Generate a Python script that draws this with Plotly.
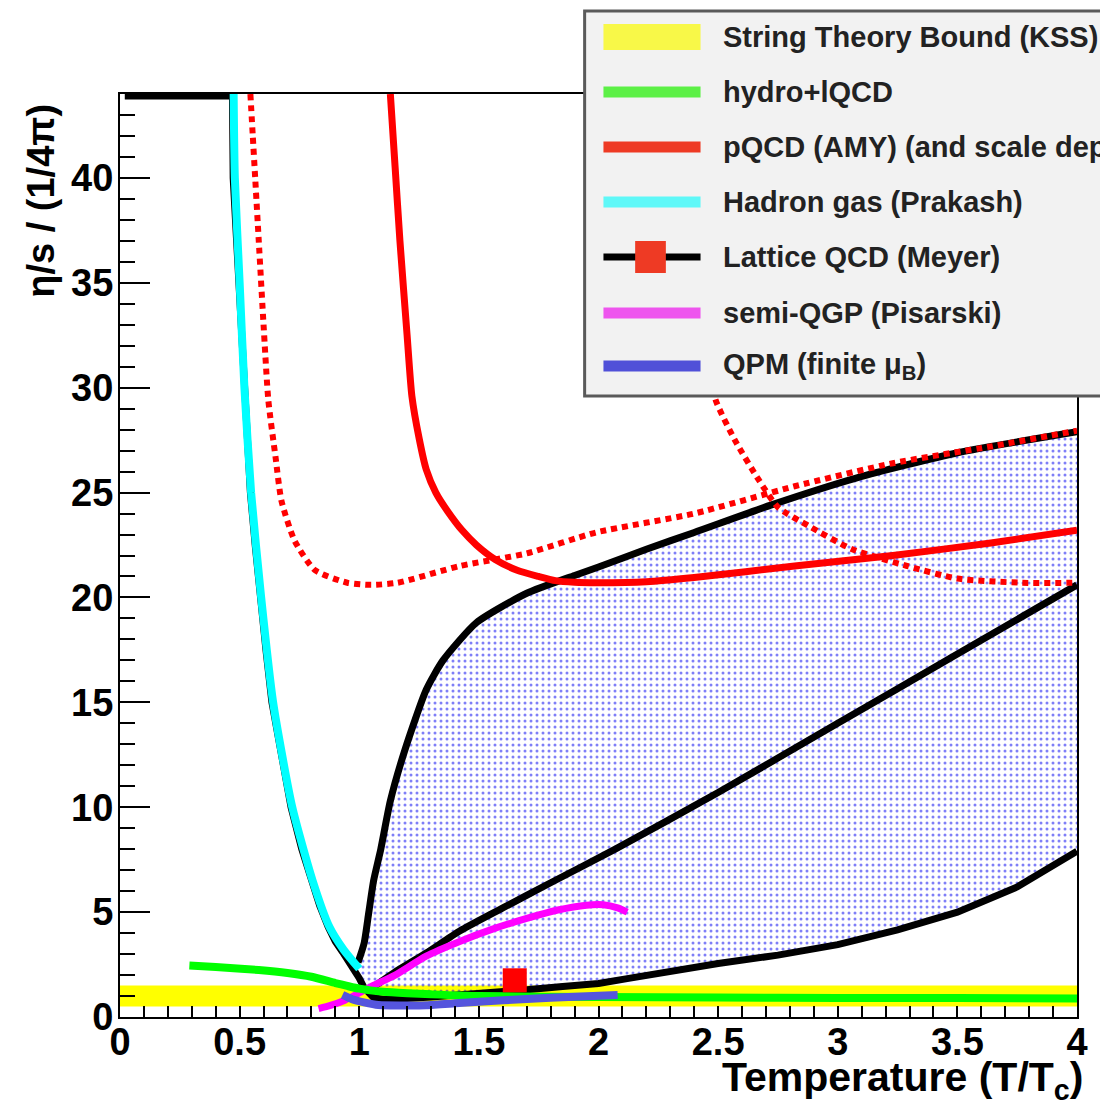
import plotly.graph_objects as go

# ---- data: eta/s in units of 1/(4 pi) versus T/Tc ----
kss_T = [0.0, 4.0]
kss_lo = [0.5, 0.5]
kss_hi = [1.5, 1.5]

hydro_T = [0.29, 0.4, 0.58, 0.7, 0.8, 0.9, 0.95, 1.0, 1.1, 1.2, 1.3, 1.5, 2.0, 2.5, 3.0, 3.5, 4.0]
hydro_eta = [2.45, 2.38, 2.24, 2.1, 1.92, 1.62, 1.48, 1.35, 1.2, 1.13, 1.08, 1.0, 0.95, 0.93, 0.91, 0.9, 0.88]

amy_T = [1.13, 1.15, 1.17, 1.2, 1.22, 1.25, 1.28, 1.32, 1.37, 1.43, 1.49, 1.57, 1.66, 1.75, 1.82, 1.9, 2.0, 2.2, 2.4, 2.82, 3.23, 3.64, 4.0]
amy_eta = [44, 40.5, 37.0, 32.5, 29.6, 27.6, 26.1, 25.0, 24.1, 23.2, 22.5, 21.8, 21.3, 21.0, 20.8, 20.72, 20.7, 20.75, 20.95, 21.5, 22.0, 22.6, 23.2]

amy_lo_T = [0.545, 0.555, 0.565, 0.58, 0.6, 0.62, 0.65, 0.675, 0.73, 0.815, 0.95, 1.05, 1.16, 1.42, 1.7, 1.99, 2.4, 2.82, 3.23, 3.64, 4.0]
amy_lo_eta = [44, 42, 40, 37, 33, 29.4, 26.7, 24.6, 22.7, 21.3, 20.7, 20.6, 20.7, 21.5, 22.1, 23.1, 24.0, 25.3, 26.4, 27.2, 27.95]

amy_hi_T = [2.45, 2.49, 2.57, 2.67, 2.75, 2.88, 3.06, 3.29, 3.5, 3.77, 4.0]
amy_hi_eta = [31.5, 29.4, 27.5, 25.6, 24.3, 23.4, 22.3, 21.5, 20.9, 20.7, 20.7]

hadron_T = [0.475, 0.48, 0.5, 0.52, 0.548, 0.59, 0.64, 0.72, 0.805, 0.875, 0.935, 1.0]
hadron_eta = [44, 40, 35, 30, 25, 20, 15, 10, 6.5, 4.3, 3.2, 2.3]

lat_up_T = [0.995, 1.02, 1.04, 1.06, 1.09, 1.13, 1.19, 1.28, 1.35, 1.49, 1.7, 1.9, 2.0, 2.2, 2.4, 2.72, 3.08, 3.5, 4.0]
lat_up_eta = [2.6, 3.5, 5.0, 6.5, 8.0, 10.3, 12.7, 15.6, 17.0, 18.8, 20.2, 21.05, 21.45, 22.3, 23.1, 24.4, 25.7, 26.9, 27.9]

lat_lo_T = [0.02, 0.47, 0.473, 0.485, 0.495, 0.505, 0.515, 0.53, 0.545, 0.565, 0.585, 0.61, 0.635, 0.675, 0.715,
            0.76, 0.8, 0.835, 0.87, 0.9, 0.93, 0.955, 0.98, 1.0, 1.02, 1.04, 1.06, 1.1, 1.15, 1.3, 1.5, 1.6,
            1.7, 1.85, 2.0, 2.12, 2.25, 2.5, 2.75, 3.0, 3.25, 3.5, 3.75, 4.0]
lat_lo_eta = [43.9, 43.9, 40, 37.5, 35, 32.5, 30, 27.5, 25, 22.5, 20, 17.5, 15, 12.4, 10,
              8.0, 6.5, 5.3, 4.3, 3.6, 3.1, 2.7, 2.3, 1.85, 1.4, 1.1, 0.92, 0.85, 0.85, 0.95, 1.1, 1.2,
              1.3, 1.45, 1.6, 1.83, 2.1, 2.55, 2.95, 3.45, 4.15, 5.0, 6.2, 7.9]

lat_mid_T = [1.03, 1.08, 1.15, 1.28, 1.42, 1.6, 1.8, 2.07, 2.5, 3.0, 3.5, 4.0]
lat_mid_eta = [1.2, 1.6, 2.15, 3.05, 4.1, 5.2, 6.4, 8.0, 10.7, 14.0, 17.3, 20.6]

meyer_T = [1.65]
meyer_eta = [1.75]

semi_T = [0.83, 0.88, 0.94, 1.0, 1.05, 1.15, 1.28, 1.42, 1.56, 1.7, 1.83, 1.95, 2.02, 2.08, 2.12]
semi_eta = [0.4, 0.55, 0.8, 1.15, 1.45, 2.0, 2.9, 3.6, 4.2, 4.7, 5.1, 5.33, 5.35, 5.2, 5.0]

qpm_T = [0.93, 0.97, 1.02, 1.08, 1.2, 1.28, 1.4, 1.5, 1.7, 1.9, 2.08]
qpm_eta = [1.05, 0.85, 0.7, 0.57, 0.55, 0.56, 0.65, 0.73, 0.86, 0.97, 1.05]

legend_labels = ["String Theory Bound (KSS)", "hydro+lQCD", "pQCD (AMY) (and scale dependence)",
                 "Hadron gas (Prakash)", "Lattice QCD (Meyer)", "semi-QGP (Pisarski)",
                 "QPM (finite \u03bc<sub>B</sub>)"]

# ---- page geometry (pixels) ----
W, H = 1100, 1113
L, R, T, B = 120, 1086, 94, 1017


def px(x):
    return (x - L) / (R - L)


def py(y):
    return (B - y) / (B - T)


FONT = "Liberation Sans"
SPL = dict(shape="spline", smoothing=0.6)
fig = go.Figure()

# KSS band
fig.add_trace(go.Scatter(x=kss_T + kss_T[::-1], y=kss_hi + kss_lo[::-1], fill="toself",
                         fillcolor="#ffff00", mode="none", hoverinfo="skip"))

# lattice band (dotted fill between upper and lower bounds for T >= Tc)
lo_part = [(t, e) for t, e in zip(lat_lo_T, lat_lo_eta) if t >= 0.98]
band_T = lat_up_T + [t for t, _ in lo_part][::-1]
band_eta = lat_up_eta + [e for _, e in lo_part][::-1]
fig.add_trace(go.Scatter(x=band_T, y=band_eta, fill="toself", mode="lines",
                         line=dict(width=0, color="rgba(0,0,0,0)"), fillcolor="rgba(0,0,0,0)",
                         fillpattern=dict(shape=".", fgcolor="#0000f0", bgcolor="rgba(0,0,0,0)",
                                          size=6, solidity=0.2),
                         hoverinfo="skip"))

black = dict(color="black", width=7)
fig.add_trace(go.Scatter(x=lat_lo_T, y=lat_lo_eta, mode="lines", line=black))
fig.add_trace(go.Scatter(x=lat_up_T, y=lat_up_eta, mode="lines", line=dict(black, **SPL)))
fig.add_trace(go.Scatter(x=lat_mid_T, y=lat_mid_eta, mode="lines", line=dict(black, **SPL)))

# pQCD
fig.add_trace(go.Scatter(x=amy_T, y=amy_eta, mode="lines",
                         line=dict(color="#ff0000", width=7, **SPL)))
for xs, ys in ((amy_lo_T, amy_lo_eta), (amy_hi_T, amy_hi_eta)):
    fig.add_trace(go.Scatter(x=xs, y=ys, mode="lines",
                             line=dict(color="#ff0000", width=6, dash="6px,5px", **SPL)))

# hadron gas
fig.add_trace(go.Scatter(x=hadron_T, y=hadron_eta, mode="lines",
                         line=dict(color="#00ffff", width=8, **SPL)))
# semi-QGP
fig.add_trace(go.Scatter(x=semi_T, y=semi_eta, mode="lines",
                         line=dict(color="#ff00ff", width=7, **SPL)))
# hydro + lQCD
fig.add_trace(go.Scatter(x=hydro_T, y=hydro_eta, mode="lines",
                         line=dict(color="#00ff00", width=8, **SPL)))
# QPM
fig.add_trace(go.Scatter(x=qpm_T, y=qpm_eta, mode="lines",
                         line=dict(color="#5555dd", width=8, **SPL)))
# Meyer lattice point
fig.add_trace(go.Scatter(x=meyer_T, y=meyer_eta, mode="markers",
                         marker=dict(symbol="square", size=24, color="#ff0000", line=dict(width=0))))

tickfont = dict(family=FONT, size=38, color="black", weight="bold")
fig.update_xaxes(range=[0, 4], dtick=0.5, tick0=0, ticks="inside", ticklen=11, tickwidth=2,
                 tickcolor="black", showline=True, linewidth=2, linecolor="black", mirror=True,
                 showgrid=False, zeroline=False, tickfont=tickfont, ticklabelstandoff=-10,
                 minor=dict(dtick=0.1, ticks="inside", ticklen=11, tickwidth=2, tickcolor="black", showgrid=False))
fig.update_yaxes(range=[0, 44], dtick=5, tick0=0, ticks="inside", ticklen=30, tickwidth=2,
                 tickcolor="black", showline=True, linewidth=2, linecolor="black", mirror=True,
                 showgrid=False, zeroline=False, tickfont=tickfont, ticklabelstandoff=-3,
                 minor=dict(dtick=1, ticks="inside", ticklen=15, tickwidth=2, tickcolor="black", showgrid=False))

shapes = []
annotations = []

# legend box
shapes.append(dict(type="rect", xref="paper", yref="paper", x0=px(589), x1=px(1120), y0=py(396), y1=py(11),
                   fillcolor="#f2f2f2", line=dict(color="#5a5a5a", width=3), layer="above"))
rows = [37, 92, 147, 202, 257, 313, 366]
sample_colors = ["#f8f848", "#5cf046", "#ee3a24", "#5ff8f8", "black", "#ee55ee", "#5050d8"]
for i, (yy, col) in enumerate(zip(rows, sample_colors)):
    if i == 0:
        shapes.append(dict(type="rect", xref="paper", yref="paper", x0=px(608), x1=px(706),
                           y0=py(yy + 13), y1=py(yy - 13), fillcolor=col, line=dict(width=0), layer="above"))
    else:
        shapes.append(dict(type="line", xref="paper", yref="paper", x0=px(608), x1=px(706),
                           y0=py(yy), y1=py(yy), line=dict(color=col, width=11 if i != 4 else 7), layer="above"))
    if i == 4:
        shapes.append(dict(type="rect", xref="paper", yref="paper", x0=px(640), x1=px(671),
                           y0=py(yy + 16), y1=py(yy - 16), fillcolor="#ee3a24", line=dict(width=0), layer="above"))
    annotations.append(dict(xref="paper", yref="paper", x=px(727), y=py(yy), xanchor="left", yanchor="middle",
                            text=legend_labels[i], showarrow=False,
                            font=dict(family=FONT, size=29, color="#222222", weight="bold")))

# axis titles
annotations.append(dict(xref="paper", yref="paper", x=px(40), y=py(201), xanchor="center", yanchor="middle",
                        text="\u03b7/s / (1/4\u03c0)", textangle=-90, showarrow=False,
                        font=dict(family=FONT, size=38, color="black", weight="bold")))
annotations.append(dict(xref="paper", yref="paper", x=px(1094), y=py(1080), xanchor="right", yanchor="middle",
                        text="Temperature (T/T<sub>c</sub>)", showarrow=False,
                        font=dict(family=FONT, size=41, color="black", weight="bold")))

fig.update_layout(width=W, height=H, margin=dict(l=L, r=W - R, t=T, b=H - B),
                  paper_bgcolor="white", plot_bgcolor="white", showlegend=False,
                  shapes=shapes, annotations=annotations)

fig.write_html("out.html")
